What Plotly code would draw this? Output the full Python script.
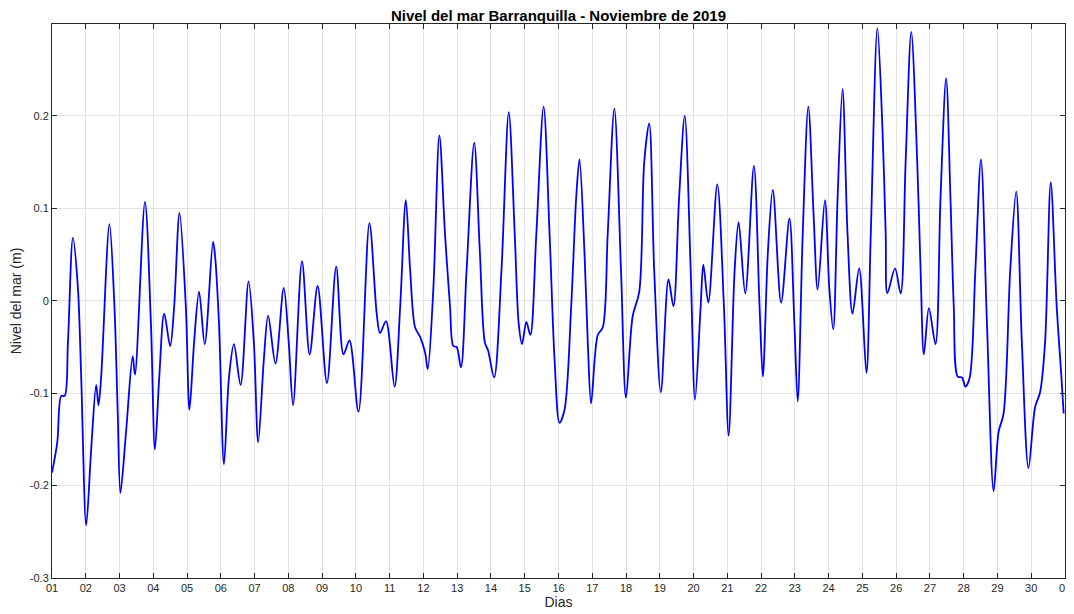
import pandas as pd
import plotly.graph_objects as go

# Tiempo (días desde el 1 de noviembre de 2019, 00:00) y nivel del mar (m)
dias = [
    0.000, 0.157, 0.275, 0.374, 0.472, 0.619, 0.767, 0.865, 1.013, 1.160,
    1.308, 1.377, 1.455, 1.701, 1.849, 1.947, 2.026, 2.193, 2.389, 2.458,
    2.753, 2.930, 3.048, 3.176, 3.323, 3.500, 3.618, 3.776, 3.963, 4.071,
    4.208, 4.356, 4.523, 4.769, 4.828, 4.946, 5.093, 5.241, 5.388, 5.585,
    5.821, 5.978, 6.106, 6.273, 6.401, 6.618, 6.863, 7.011, 7.139, 7.404,
    7.630, 7.866, 8.142, 8.417, 8.633, 8.810, 9.076, 9.400, 9.617, 9.715,
    9.892, 10.145, 10.312, 10.479, 10.607, 10.754, 10.902, 11.049, 11.128, 11.295,
    11.472, 11.639, 11.787, 11.885, 11.983, 12.111, 12.278, 12.504, 12.672, 12.819,
    12.917, 13.094, 13.311, 13.527, 13.704, 13.822, 13.920, 14.048, 14.166, 14.343,
    14.559, 14.736, 14.884, 15.031, 15.179, 15.376, 15.523, 15.621, 15.769, 15.867,
    15.966, 16.162, 16.310, 16.457, 16.654, 16.851, 16.998, 17.195, 17.392, 17.539,
    17.686, 17.834, 18.031, 18.257, 18.404, 18.571, 18.738, 18.915, 19.043, 19.210,
    19.289, 19.436, 19.702, 19.899, 20.039, 20.216, 20.334, 20.531, 20.787, 20.954,
    21.052, 21.200, 21.347, 21.593, 21.839, 21.986, 22.085, 22.232, 22.399, 22.557,
    22.675, 22.891, 23.019, 23.137, 23.265, 23.412, 23.560, 23.707, 23.904, 24.120,
    24.248, 24.444, 24.592, 24.690, 24.739, 24.966, 25.133, 25.280, 25.447, 25.624,
    25.723, 25.821, 25.969, 26.165, 26.313, 26.480, 26.608, 26.706, 26.824, 26.952,
    27.050, 27.178, 27.345, 27.512, 27.689, 27.886, 28.033, 28.181, 28.378, 28.555,
    28.722, 28.918, 29.115, 29.263, 29.410, 29.577, 29.754, 29.902, 29.960,
]
nivel = [
    -0.186, -0.153, -0.103, -0.103, -0.045, 0.068, 0.014, -0.083, -0.243, -0.161,
    -0.091, -0.113, -0.083, 0.083, -0.006, -0.122, -0.208, -0.142, -0.060, -0.080,
    0.107, -0.025, -0.161, -0.083, -0.014, -0.049, -0.006, 0.095, -0.006, -0.118,
    -0.045, 0.010, -0.047, 0.064, 0.049, -0.025, -0.177, -0.083, -0.047, -0.091,
    0.021, -0.045, -0.153, -0.064, -0.016, -0.068, 0.014, -0.045, -0.113, 0.043,
    -0.058, 0.016, -0.089, 0.037, -0.058, -0.043, -0.120, 0.084, -0.014, -0.035,
    -0.022, -0.093, -0.006, 0.109, 0.033, -0.029, -0.039, -0.056, -0.074, 0.014,
    0.179, 0.072, -0.006, -0.049, -0.050, -0.072, 0.033, 0.171, 0.052, -0.045,
    -0.054, -0.083, 0.033, 0.204, 0.072, -0.025, -0.047, -0.023, -0.037, 0.072,
    0.210, 0.072, -0.064, -0.132, -0.118, -0.006, 0.111, 0.153, 0.052, -0.045,
    -0.111, -0.037, -0.029, 0.072, 0.208, 0.033, -0.105, -0.017, 0.010, 0.150,
    0.192, 0.033, -0.099, 0.023, -0.006, 0.111, 0.200, 0.033, -0.107, -0.006,
    0.039, -0.002, 0.126, -0.006, -0.146, 0.033, 0.085, 0.008, 0.146, -0.006,
    -0.082, 0.052, 0.120, -0.002, 0.089, -0.025, -0.109, 0.072, 0.210, 0.091,
    0.012, 0.109, 0.014, -0.031, 0.111, 0.229, 0.072, -0.014, 0.035, -0.078,
    0.072, 0.295, 0.188, 0.072, 0.008, 0.035, 0.008, 0.150, 0.291, 0.150,
    0.033, -0.058, -0.008, -0.047, 0.111, 0.241, 0.111, -0.006, -0.082, -0.083,
    -0.093, -0.083, 0.033, 0.153, -0.025, -0.206, -0.142, -0.122, 0.033, 0.118,
    -0.045, -0.181, -0.115, -0.099, -0.045, 0.128, -0.006, -0.087, -0.122,
]

etiquetas_x = ["01", "02", "03", "04", "05", "06", "07", "08", "09", "10",
               "11", "12", "13", "14", "15", "16", "17", "18", "19", "20",
               "21", "22", "23", "24", "25", "26", "27", "28", "29", "30", "01"]
valores_y = [-0.3, -0.2, -0.1, 0.0, 0.1, 0.2]
etiquetas_y = ["-0.3", "-0.2", "-0.1", "0", "0.1", "0.2"]

inicio = pd.Timestamp("2019-11-01")
fechas = inicio + pd.to_timedelta(dias, unit="D")
ticks_x = pd.date_range("2019-11-01", "2019-12-01", freq="D")

FONT = "Liberation Sans, Arial, Helvetica"

fig = go.Figure()
fig.add_trace(go.Scatter(
    x=fechas, y=nivel, mode="lines",
    line=dict(color="rgb(0,0,255)", width=1.8, shape="spline", smoothing=0.9),
    showlegend=False,
))

axis_common = dict(
    showline=True, linecolor="#262626", linewidth=1, mirror="ticks",
    ticks="inside", ticklen=5, tickcolor="#262626", tickwidth=1,
    showgrid=True, gridcolor="#e3e3e3", gridwidth=1, zeroline=False,
    automargin=False,
    tickfont=dict(family=FONT, size=11, color="#262626"),
)

# The page body has a default 8px margin, so the figure is offset by 8px.
fig.update_layout(
    width=1066, height=606,
    margin=dict(l=44, r=9, t=16, b=36),
    paper_bgcolor="white", plot_bgcolor="white",
    title=dict(text="<b>Nivel del mar Barranquilla - Noviembre de 2019</b>",
               x=0.5, xanchor="center", xref="paper",
               y=1 - 8 / 606, yref="container", yanchor="middle",
               font=dict(family=FONT, size=15, color="black")),
    xaxis=dict(range=[ticks_x[0], ticks_x[-1]], tickmode="array",
               tickvals=ticks_x, ticktext=etiquetas_x,
               title=dict(text="Dias", standoff=3,
                          font=dict(family=FONT, size=14, color="#262626")),
               **axis_common),
    yaxis=dict(range=[-0.3, 0.2995], tickmode="array",
               tickvals=valores_y, ticktext=etiquetas_y,
               title=dict(text="Nivel del mar (m)", standoff=6,
                          font=dict(family=FONT, size=14, color="#262626")),
               **axis_common),
)

fig.write_html("out.html")
